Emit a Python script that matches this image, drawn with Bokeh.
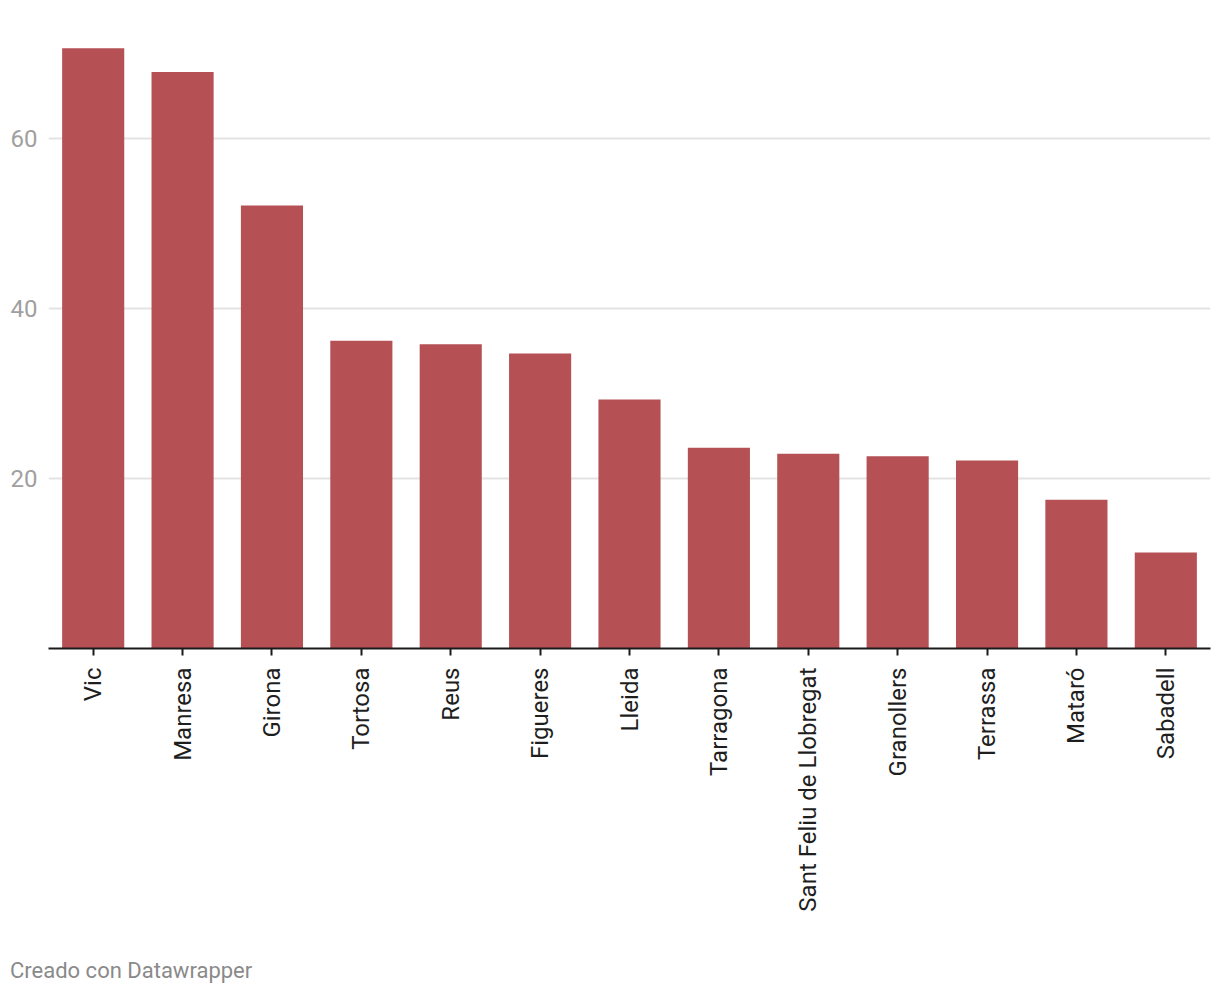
from bokeh.plotting import figure
from bokeh.models import FactorRange, Range1d, FixedTicker, Div
from bokeh.layouts import column
from bokeh.embed import file_html
from bokeh.resources import INLINE
import math

cities = ["Vic", "Manresa", "Girona", "Tortosa", "Reus", "Figueres", "Lleida",
          "Tarragona", "Sant Feliu de Llobregat", "Granollers", "Terrassa",
          "Mataró", "Sabadell"]
values = [70.6, 67.8, 52.1, 36.2, 35.8, 34.7, 29.3, 23.6, 22.9, 22.6, 22.1, 17.5, 11.3]
y_ticks = [20, 40, 60]
footer = "Creado con Datawrapper"

p = figure(x_range=FactorRange(*cities, range_padding=0),
           y_range=Range1d(0, 74.1),
           width=1212, height=953,
           output_backend="svg", toolbar_location=None,
           min_border_left=48, min_border_right=2, min_border_top=18,
           min_border_bottom=305)
p.outline_line_color = None
p.background_fill_color = "white"

p.vbar(x=cities, top=values, width=0.695, color="#b55154", line_color=None)

# Y axis
p.yaxis.ticker = FixedTicker(ticks=y_ticks)
p.yaxis.axis_line_color = None
p.yaxis.major_tick_line_color = None
p.yaxis.minor_tick_line_color = None
p.yaxis.major_tick_out = 0
p.yaxis.major_tick_in = 0
p.yaxis.major_label_standoff = 11
p.yaxis.major_label_text_font = "Roboto"
p.yaxis.major_label_text_font_size = "24px"
p.yaxis.major_label_text_color = "#a0a0a0"

p.ygrid.ticker = FixedTicker(ticks=y_ticks)
p.ygrid.grid_line_color = "#e3e3e3"
p.ygrid.grid_line_width = 2
p.xgrid.grid_line_color = None

# X axis
p.xaxis.axis_line_color = "#1a1a1a"
p.xaxis.axis_line_width = 2
p.xaxis.major_tick_line_color = "#1a1a1a"
p.xaxis.major_tick_line_width = 2
p.xaxis.major_tick_out = 7
p.xaxis.major_tick_in = 0
p.xaxis.minor_tick_line_color = None
p.xaxis.major_label_orientation = math.pi / 2
p.xaxis.major_label_standoff = 12
p.xaxis.major_label_text_font = "Roboto"
p.xaxis.major_label_text_font_size = "24px"
p.xaxis.major_label_text_color = "#1e1e1e"

div = Div(text=footer, margin=(5, 0, 0, 10),
          styles={"font-family": "Roboto", "font-size": "22px", "color": "#8a8a8a",
                  "line-height": "1.2"})

layout = column(p, div, spacing=0)
open("out.html", "w").write(file_html(layout, INLINE))
